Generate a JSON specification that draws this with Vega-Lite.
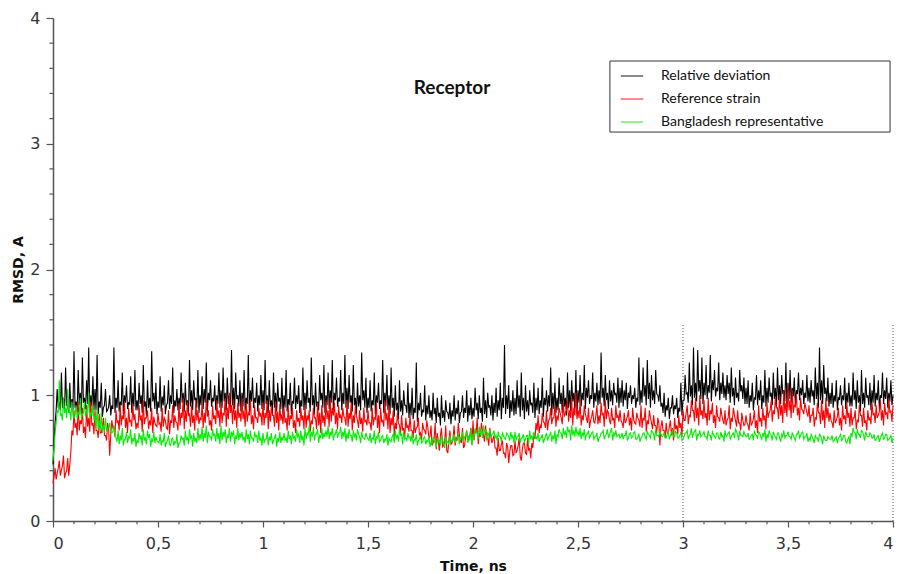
{
"$schema":"https://vega.github.io/schema/vega-lite/v6.json",
"width":840,"height":503,
"autosize":{"type":"none"},
"padding":{"left":53,"top":18,"right":7,"bottom":53},
"background":"white",
"config":{"view":{"stroke":null},"axis":{"grid":false,"domainColor":"#555","domainWidth":1.5,"tickColor":"#555","tickWidth":1.2,"labelFont":"DejaVu Sans","labelFontSize":16,"labelColor":"#333","titleFont":"DejaVu Sans","titleFontSize":14,"titleFontWeight":"bold","titleColor":"#111"}},
"layer":[
{
"data":{"values":[{"v":0.1},{"v":0.2},{"v":0.3},{"v":0.4},{"v":0.6},{"v":0.7},{"v":0.8},{"v":0.9},{"v":1.1},{"v":1.2},{"v":1.3},{"v":1.4},{"v":1.6},{"v":1.7},{"v":1.8},{"v":1.9},{"v":2.1},{"v":2.2},{"v":2.3},{"v":2.4},{"v":2.6},{"v":2.7},{"v":2.8},{"v":2.9},{"v":3.1},{"v":3.2},{"v":3.3},{"v":3.4},{"v":3.6},{"v":3.7},{"v":3.8},{"v":3.9}]},
"mark":{"type":"rule","color":"#555","strokeWidth":1.2},
"encoding":{
"x":{"field":"v","type":"quantitative"},
"y":{"datum":0,"type":"quantitative"},
"y2":{"datum":-0.026}
}
},
{
"data":{"values":[{"v":0.2},{"v":0.4},{"v":0.6},{"v":0.8},{"v":1.2},{"v":1.4},{"v":1.6},{"v":1.8},{"v":2.2},{"v":2.4},{"v":2.6},{"v":2.8},{"v":3.2},{"v":3.4},{"v":3.6},{"v":3.8}]},
"mark":{"type":"rule","color":"#555","strokeWidth":1.2},
"encoding":{
"y":{"field":"v","type":"quantitative"},
"x":{"datum":0,"type":"quantitative"},
"x2":{"datum":-0.017}
}
},
{
"data":{"values":[{"t":3,"y0":0,"y1":1.56},{"t":4,"y0":0,"y1":1.56}]},
"mark":{"type":"rule","color":"#555","strokeDash":[1,2],"strokeWidth":1},
"encoding":{
"x":{"field":"t","type":"quantitative"},
"y":{"field":"y0","type":"quantitative"},
"y2":{"field":"y1"}
}
},
{
"data":{"values":[
{"t":0,"k":0.45,"r":0.30,"g":0.48},
{"t":0.01,"k":0.78,"r":0.42,"g":0.70},
{"t":0.02,"k":1.05,"r":0.38,"g":0.88},
{"t":0.03,"k":0.95,"r":0.48,"g":1.12},
{"t":0.04,"k":1.18,"r":0.40,"g":0.85},
{"t":0.05,"k":0.98,"r":0.52,"g":0.98},
{"t":0.06,"k":1.22,"r":0.38,"g":0.90},
{"t":0.07,"k":0.92,"r":0.50,"g":1.05},
{"t":0.08,"k":1.10,"r":0.45,"g":0.88},
{"t":0.09,"k":0.97,"r":0.72,"g":0.95},
{"t":0.10,"k":1.35,"r":0.88,"g":0.82},
{"t":0.11,"k":0.95,"r":0.78,"g":0.92},
{"t":0.12,"k":1.20,"r":0.95,"g":0.86},
{"t":0.13,"k":1.02,"r":0.80,"g":0.98},
{"t":0.14,"k":1.30,"r":0.90,"g":0.85},
{"t":0.15,"k":0.98,"r":0.75,"g":0.95},
{"t":0.16,"k":1.12,"r":0.92,"g":0.88},
{"t":0.17,"k":1.38,"r":0.82,"g":1.02},
{"t":0.18,"k":1.00,"r":0.95,"g":0.86},
{"t":0.19,"k":1.15,"r":0.78,"g":0.92},
{"t":0.20,"k":1.05,"r":0.88,"g":0.84},
{"t":0.21,"k":1.32,"r":0.72,"g":0.90},
{"t":0.22,"k":0.95,"r":0.85,"g":0.80},
{"t":0.23,"k":1.10,"r":0.70,"g":0.86},
{"t":0.24,"k":0.90,"r":0.82,"g":0.76},
{"t":0.25,"k":1.05,"r":0.68,"g":0.82},
{"t":0.26,"k":0.88,"r":0.78,"g":0.74},
{"t":0.27,"k":1.00,"r":0.52,"g":0.78},
{"t":0.28,"k":0.92,"r":0.80,"g":0.70},
{"t":0.29,"k":1.38,"r":0.75,"g":0.76},
{"t":0.30,"k":0.98,"r":0.88,"g":0.66},
{"t":0.31,"k":1.12,"r":0.80,"g":0.72},
{"t":0.32,"k":0.95,"r":0.92,"g":0.68},
{"t":0.33,"k":1.18,"r":0.84,"g":0.74},
{"t":0.34,"k":1.00,"r":0.95,"g":0.65},
{"t":0.35,"k":1.08,"r":0.82,"g":0.71},
{"t":0.36,"k":0.94,"r":0.90,"g":0.67},
{"t":0.37,"k":1.15,"r":0.80,"g":0.73},
{"t":0.38,"k":1.02,"r":0.93,"g":0.66},
{"t":0.39,"k":1.20,"r":0.85,"g":0.70},
{"t":0.40,"k":0.96,"r":0.78,"g":0.64},
{"t":0.41,"k":1.10,"r":0.92,"g":0.70},
{"t":0.42,"k":1.00,"r":0.84,"g":0.68},
{"t":0.43,"k":1.24,"r":0.96,"g":0.73},
{"t":0.44,"k":0.95,"r":0.82,"g":0.66},
{"t":0.45,"k":1.12,"r":0.88,"g":0.72},
{"t":0.46,"k":0.98,"r":0.80,"g":0.69},
{"t":0.47,"k":1.35,"r":0.90,"g":0.65},
{"t":0.48,"k":1.02,"r":0.83,"g":0.71},
{"t":0.49,"k":1.10,"r":0.76,"g":0.67},
{"t":0.50,"k":0.95,"r":0.86,"g":0.63},
{"t":0.51,"k":1.15,"r":0.78,"g":0.69},
{"t":0.52,"k":0.99,"r":0.90,"g":0.64},
{"t":0.53,"k":1.08,"r":0.82,"g":0.70},
{"t":0.54,"k":0.92,"r":0.74,"g":0.62},
{"t":0.55,"k":1.12,"r":0.88,"g":0.68},
{"t":0.56,"k":1.00,"r":0.80,"g":0.60},
{"t":0.57,"k":1.22,"r":0.92,"g":0.66},
{"t":0.58,"k":0.96,"r":0.84,"g":0.63},
{"t":0.59,"k":1.05,"r":0.78,"g":0.69},
{"t":0.60,"k":0.98,"r":0.94,"g":0.62},
{"t":0.61,"k":1.18,"r":0.86,"g":0.68},
{"t":0.62,"k":1.02,"r":0.98,"g":0.66},
{"t":0.63,"k":1.10,"r":0.88,"g":0.72},
{"t":0.64,"k":0.96,"r":0.95,"g":0.67},
{"t":0.65,"k":1.28,"r":0.85,"g":0.73},
{"t":0.66,"k":1.04,"r":0.92,"g":0.68},
{"t":0.67,"k":1.12,"r":0.84,"g":0.70},
{"t":0.68,"k":0.98,"r":0.96,"g":0.66},
{"t":0.69,"k":1.20,"r":0.88,"g":0.74},
{"t":0.70,"k":1.00,"r":0.82,"g":0.69},
{"t":0.71,"k":1.15,"r":0.94,"g":0.75},
{"t":0.72,"k":1.05,"r":0.86,"g":0.70},
{"t":0.73,"k":1.26,"r":0.98,"g":0.76},
{"t":0.74,"k":1.02,"r":0.88,"g":0.71},
{"t":0.75,"k":1.12,"r":0.80,"g":0.67},
{"t":0.76,"k":0.98,"r":0.92,"g":0.73},
{"t":0.77,"k":1.08,"r":0.84,"g":0.69},
{"t":0.78,"k":1.00,"r":0.96,"g":0.74},
{"t":0.79,"k":1.18,"r":0.88,"g":0.70},
{"t":0.80,"k":1.04,"r":0.94,"g":0.76},
{"t":0.81,"k":1.22,"r":0.86,"g":0.71},
{"t":0.82,"k":1.02,"r":0.98,"g":0.73},
{"t":0.83,"k":1.14,"r":0.90,"g":0.68},
{"t":0.84,"k":1.00,"r":1.02,"g":0.74},
{"t":0.85,"k":1.36,"r":0.92,"g":0.70},
{"t":0.86,"k":1.06,"r":0.96,"g":0.72},
{"t":0.87,"k":1.18,"r":0.88,"g":0.68},
{"t":0.88,"k":1.00,"r":0.94,"g":0.74},
{"t":0.89,"k":1.12,"r":0.86,"g":0.70},
{"t":0.90,"k":1.02,"r":0.98,"g":0.71},
{"t":0.91,"k":1.20,"r":0.88,"g":0.67},
{"t":0.92,"k":0.98,"r":0.94,"g":0.73},
{"t":0.93,"k":1.32,"r":0.86,"g":0.69},
{"t":0.94,"k":1.04,"r":0.96,"g":0.72},
{"t":0.95,"k":1.14,"r":0.84,"g":0.66},
{"t":0.96,"k":0.98,"r":0.92,"g":0.71},
{"t":0.97,"k":1.10,"r":0.82,"g":0.68},
{"t":0.98,"k":1.00,"r":0.90,"g":0.72},
{"t":0.99,"k":1.16,"r":0.86,"g":0.66},
{"t":1.00,"k":1.04,"r":0.94,"g":0.70},
{"t":1.01,"k":1.28,"r":0.86,"g":0.65},
{"t":1.02,"k":1.00,"r":0.96,"g":0.71},
{"t":1.03,"k":1.12,"r":0.88,"g":0.67},
{"t":1.04,"k":0.96,"r":0.92,"g":0.70},
{"t":1.05,"k":1.18,"r":0.84,"g":0.64},
{"t":1.06,"k":1.02,"r":0.95,"g":0.69},
{"t":1.07,"k":1.10,"r":0.87,"g":0.66},
{"t":1.08,"k":0.98,"r":0.93,"g":0.71},
{"t":1.09,"k":1.14,"r":0.85,"g":0.67},
{"t":1.10,"k":1.00,"r":0.90,"g":0.70},
{"t":1.11,"k":1.20,"r":0.82,"g":0.66},
{"t":1.12,"k":0.97,"r":0.92,"g":0.72},
{"t":1.13,"k":1.10,"r":0.84,"g":0.68},
{"t":1.14,"k":0.95,"r":0.90,"g":0.71},
{"t":1.15,"k":1.14,"r":0.80,"g":0.67},
{"t":1.16,"k":1.00,"r":0.88,"g":0.73},
{"t":1.17,"k":1.08,"r":0.82,"g":0.69},
{"t":1.18,"k":0.96,"r":0.90,"g":0.72},
{"t":1.19,"k":1.22,"r":0.84,"g":0.68},
{"t":1.20,"k":1.02,"r":0.92,"g":0.74},
{"t":1.21,"k":1.12,"r":0.84,"g":0.70},
{"t":1.22,"k":0.98,"r":0.88,"g":0.76},
{"t":1.23,"k":1.30,"r":0.80,"g":0.71},
{"t":1.24,"k":1.00,"r":0.90,"g":0.75},
{"t":1.25,"k":1.10,"r":0.82,"g":0.69},
{"t":1.26,"k":0.95,"r":0.94,"g":0.73},
{"t":1.27,"k":1.16,"r":0.86,"g":0.68},
{"t":1.28,"k":1.02,"r":0.92,"g":0.74},
{"t":1.29,"k":1.24,"r":0.84,"g":0.70},
{"t":1.30,"k":1.00,"r":0.96,"g":0.72},
{"t":1.31,"k":1.18,"r":0.88,"g":0.76},
{"t":1.32,"k":1.04,"r":0.98,"g":0.71},
{"t":1.33,"k":1.28,"r":0.90,"g":0.74},
{"t":1.34,"k":1.02,"r":0.94,"g":0.69},
{"t":1.35,"k":1.14,"r":0.86,"g":0.73},
{"t":1.36,"k":0.98,"r":0.92,"g":0.70},
{"t":1.37,"k":1.20,"r":0.84,"g":0.75},
{"t":1.38,"k":1.02,"r":0.90,"g":0.71},
{"t":1.39,"k":1.32,"r":0.82,"g":0.74},
{"t":1.40,"k":1.06,"r":0.96,"g":0.70},
{"t":1.41,"k":1.16,"r":0.86,"g":0.73},
{"t":1.42,"k":1.00,"r":0.94,"g":0.68},
{"t":1.43,"k":1.24,"r":0.84,"g":0.72},
{"t":1.44,"k":0.98,"r":0.92,"g":0.69},
{"t":1.45,"k":1.10,"r":0.80,"g":0.73},
{"t":1.46,"k":1.00,"r":0.88,"g":0.67},
{"t":1.47,"k":1.34,"r":0.82,"g":0.71},
{"t":1.48,"k":1.04,"r":0.90,"g":0.66},
{"t":1.49,"k":1.14,"r":0.80,"g":0.70},
{"t":1.50,"k":0.98,"r":0.88,"g":0.65},
{"t":1.51,"k":1.12,"r":0.78,"g":0.70},
{"t":1.52,"k":0.96,"r":0.90,"g":0.66},
{"t":1.53,"k":1.18,"r":0.82,"g":0.72},
{"t":1.54,"k":1.00,"r":0.94,"g":0.67},
{"t":1.55,"k":1.10,"r":0.84,"g":0.71},
{"t":1.56,"k":0.96,"r":0.90,"g":0.64},
{"t":1.57,"k":1.28,"r":0.80,"g":0.68},
{"t":1.58,"k":1.02,"r":0.96,"g":0.65},
{"t":1.59,"k":1.16,"r":0.86,"g":0.69},
{"t":1.60,"k":1.00,"r":0.92,"g":0.66},
{"t":1.61,"k":1.22,"r":0.82,"g":0.63},
{"t":1.62,"k":0.98,"r":0.88,"g":0.69},
{"t":1.63,"k":1.08,"r":0.78,"g":0.72},
{"t":1.64,"k":0.94,"r":0.86,"g":0.68},
{"t":1.65,"k":1.12,"r":0.76,"g":0.73},
{"t":1.66,"k":0.96,"r":0.84,"g":0.69},
{"t":1.67,"k":1.04,"r":0.74,"g":0.71},
{"t":1.68,"k":0.92,"r":0.82,"g":0.66},
{"t":1.69,"k":1.10,"r":0.76,"g":0.70},
{"t":1.70,"k":0.94,"r":0.84,"g":0.67},
{"t":1.71,"k":1.06,"r":0.72,"g":0.70},
{"t":1.72,"k":0.90,"r":0.80,"g":0.65},
{"t":1.73,"k":1.26,"r":0.74,"g":0.69},
{"t":1.74,"k":0.94,"r":0.82,"g":0.64},
{"t":1.75,"k":1.02,"r":0.70,"g":0.68},
{"t":1.76,"k":0.88,"r":0.78,"g":0.63},
{"t":1.77,"k":1.08,"r":0.72,"g":0.67},
{"t":1.78,"k":0.92,"r":0.80,"g":0.64},
{"t":1.79,"k":1.00,"r":0.66,"g":0.68},
{"t":1.80,"k":0.88,"r":0.76,"g":0.63},
{"t":1.81,"k":1.02,"r":0.62,"g":0.67},
{"t":1.82,"k":0.90,"r":0.78,"g":0.62},
{"t":1.83,"k":0.98,"r":0.70,"g":0.66},
{"t":1.84,"k":0.86,"r":0.56,"g":0.64},
{"t":1.85,"k":1.00,"r":0.74,"g":0.68},
{"t":1.86,"k":0.88,"r":0.60,"g":0.62},
{"t":1.87,"k":0.96,"r":0.76,"g":0.67},
{"t":1.88,"k":0.86,"r":0.54,"g":0.63},
{"t":1.89,"k":0.94,"r":0.72,"g":0.68},
{"t":1.90,"k":0.88,"r":0.62,"g":0.64},
{"t":1.91,"k":1.00,"r":0.76,"g":0.69},
{"t":1.92,"k":0.90,"r":0.66,"g":0.65},
{"t":1.93,"k":0.96,"r":0.78,"g":0.70},
{"t":1.94,"k":0.86,"r":0.64,"g":0.66},
{"t":1.95,"k":1.00,"r":0.74,"g":0.71},
{"t":1.96,"k":0.90,"r":0.60,"g":0.67},
{"t":1.97,"k":1.04,"r":0.72,"g":0.72},
{"t":1.98,"k":0.92,"r":0.66,"g":0.68},
{"t":1.99,"k":0.98,"r":0.74,"g":0.73},
{"t":2.00,"k":0.90,"r":0.80,"g":0.69},
{"t":2.01,"k":1.06,"r":0.72,"g":0.74},
{"t":2.02,"k":0.94,"r":0.82,"g":0.70},
{"t":2.03,"k":1.00,"r":0.70,"g":0.75},
{"t":2.04,"k":0.90,"r":0.78,"g":0.71},
{"t":2.05,"k":1.14,"r":0.68,"g":0.76},
{"t":2.06,"k":0.96,"r":0.76,"g":0.72},
{"t":2.07,"k":1.02,"r":0.66,"g":0.70},
{"t":2.08,"k":0.92,"r":0.74,"g":0.73},
{"t":2.09,"k":1.00,"r":0.62,"g":0.69},
{"t":2.10,"k":0.94,"r":0.68,"g":0.72},
{"t":2.11,"k":1.06,"r":0.58,"g":0.68},
{"t":2.12,"k":0.96,"r":0.66,"g":0.71},
{"t":2.13,"k":1.10,"r":0.56,"g":0.67},
{"t":2.14,"k":0.98,"r":0.64,"g":0.70},
{"t":2.15,"k":1.40,"r":0.54,"g":0.66},
{"t":2.16,"k":1.00,"r":0.62,"g":0.70},
{"t":2.17,"k":1.08,"r":0.46,"g":0.67},
{"t":2.18,"k":0.96,"r":0.60,"g":0.71},
{"t":2.19,"k":1.04,"r":0.52,"g":0.68},
{"t":2.20,"k":0.98,"r":0.64,"g":0.71},
{"t":2.21,"k":1.12,"r":0.56,"g":0.67},
{"t":2.22,"k":1.00,"r":0.66,"g":0.70},
{"t":2.23,"k":1.18,"r":0.48,"g":0.66},
{"t":2.24,"k":0.98,"r":0.62,"g":0.69},
{"t":2.25,"k":1.08,"r":0.54,"g":0.65},
{"t":2.26,"k":0.96,"r":0.66,"g":0.68},
{"t":2.27,"k":1.04,"r":0.58,"g":0.72},
{"t":2.28,"k":0.94,"r":0.62,"g":0.68},
{"t":2.29,"k":1.10,"r":0.70,"g":0.71},
{"t":2.30,"k":0.98,"r":0.78,"g":0.67},
{"t":2.31,"k":1.06,"r":0.84,"g":0.70},
{"t":2.32,"k":0.96,"r":0.76,"g":0.66},
{"t":2.33,"k":1.14,"r":0.86,"g":0.69},
{"t":2.34,"k":0.98,"r":0.78,"g":0.65},
{"t":2.35,"k":1.04,"r":0.88,"g":0.70},
{"t":2.36,"k":1.00,"r":0.80,"g":0.67},
{"t":2.37,"k":1.22,"r":0.90,"g":0.71},
{"t":2.38,"k":1.02,"r":0.82,"g":0.68},
{"t":2.39,"k":1.10,"r":0.92,"g":0.72},
{"t":2.40,"k":0.98,"r":0.84,"g":0.69},
{"t":2.41,"k":1.14,"r":0.90,"g":0.73},
{"t":2.42,"k":1.02,"r":0.82,"g":0.70},
{"t":2.43,"k":1.08,"r":0.94,"g":0.74},
{"t":2.44,"k":0.98,"r":0.86,"g":0.71},
{"t":2.45,"k":1.18,"r":0.96,"g":0.75},
{"t":2.46,"k":1.04,"r":0.88,"g":0.72},
{"t":2.47,"k":1.12,"r":0.98,"g":0.76},
{"t":2.48,"k":1.02,"r":0.90,"g":0.72},
{"t":2.49,"k":1.20,"r":1.02,"g":0.75},
{"t":2.50,"k":1.04,"r":0.88,"g":0.71},
{"t":2.51,"k":1.16,"r":0.96,"g":0.74},
{"t":2.52,"k":1.02,"r":0.84,"g":0.70},
{"t":2.53,"k":1.24,"r":0.92,"g":0.73},
{"t":2.54,"k":1.06,"r":0.82,"g":0.69},
{"t":2.55,"k":1.12,"r":0.90,"g":0.72},
{"t":2.56,"k":1.00,"r":0.80,"g":0.68},
{"t":2.57,"k":1.18,"r":0.88,"g":0.71},
{"t":2.58,"k":1.02,"r":0.78,"g":0.67},
{"t":2.59,"k":1.10,"r":0.92,"g":0.70},
{"t":2.60,"k":1.04,"r":0.84,"g":0.66},
{"t":2.61,"k":1.34,"r":0.94,"g":0.70},
{"t":2.62,"k":1.06,"r":0.86,"g":0.72},
{"t":2.63,"k":1.16,"r":0.96,"g":0.68},
{"t":2.64,"k":1.02,"r":0.88,"g":0.73},
{"t":2.65,"k":1.12,"r":0.80,"g":0.69},
{"t":2.66,"k":1.04,"r":0.90,"g":0.74},
{"t":2.67,"k":1.10,"r":0.82,"g":0.70},
{"t":2.68,"k":1.02,"r":0.92,"g":0.72},
{"t":2.69,"k":1.14,"r":0.84,"g":0.68},
{"t":2.70,"k":1.06,"r":0.88,"g":0.66},
{"t":2.71,"k":1.12,"r":0.78,"g":0.70},
{"t":2.72,"k":1.04,"r":0.86,"g":0.68},
{"t":2.73,"k":1.10,"r":0.80,"g":0.72},
{"t":2.74,"k":1.02,"r":0.88,"g":0.66},
{"t":2.75,"k":1.08,"r":0.82,"g":0.70},
{"t":2.76,"k":1.00,"r":0.90,"g":0.67},
{"t":2.77,"k":1.06,"r":0.78,"g":0.71},
{"t":2.78,"k":0.98,"r":0.86,"g":0.65},
{"t":2.79,"k":1.30,"r":0.80,"g":0.69},
{"t":2.80,"k":1.04,"r":0.92,"g":0.66},
{"t":2.81,"k":1.22,"r":0.82,"g":0.70},
{"t":2.82,"k":1.08,"r":0.90,"g":0.67},
{"t":2.83,"k":1.28,"r":0.80,"g":0.71},
{"t":2.84,"k":1.10,"r":0.88,"g":0.68},
{"t":2.85,"k":1.16,"r":0.78,"g":0.72},
{"t":2.86,"k":1.04,"r":0.84,"g":0.69},
{"t":2.87,"k":1.20,"r":0.76,"g":0.73},
{"t":2.88,"k":1.00,"r":0.82,"g":0.68},
{"t":2.89,"k":1.08,"r":0.60,"g":0.71},
{"t":2.90,"k":0.94,"r":0.80,"g":0.67},
{"t":2.91,"k":1.02,"r":0.72,"g":0.70},
{"t":2.92,"k":0.92,"r":0.78,"g":0.66},
{"t":2.93,"k":0.98,"r":0.70,"g":0.71},
{"t":2.94,"k":0.90,"r":0.80,"g":0.68},
{"t":2.95,"k":1.00,"r":0.74,"g":0.72},
{"t":2.96,"k":0.92,"r":0.82,"g":0.67},
{"t":2.97,"k":0.98,"r":0.76,"g":0.70},
{"t":2.98,"k":0.90,"r":0.84,"g":0.66},
{"t":2.99,"k":1.10,"r":0.78,"g":0.71},
{"t":3.00,"k":0.96,"r":0.88,"g":0.65},
{"t":3.01,"k":1.16,"r":0.80,"g":0.70},
{"t":3.02,"k":1.02,"r":0.92,"g":0.72},
{"t":3.03,"k":1.26,"r":0.84,"g":0.68},
{"t":3.04,"k":1.08,"r":0.96,"g":0.74},
{"t":3.05,"k":1.38,"r":0.88,"g":0.70},
{"t":3.06,"k":1.10,"r":0.98,"g":0.73},
{"t":3.07,"k":1.36,"r":0.90,"g":0.69},
{"t":3.08,"k":1.12,"r":1.00,"g":0.72},
{"t":3.09,"k":1.30,"r":0.88,"g":0.68},
{"t":3.10,"k":1.10,"r":0.96,"g":0.71},
{"t":3.11,"k":1.24,"r":0.86,"g":0.67},
{"t":3.12,"k":1.08,"r":0.98,"g":0.72},
{"t":3.13,"k":1.32,"r":0.88,"g":0.68},
{"t":3.14,"k":1.12,"r":0.94,"g":0.71},
{"t":3.15,"k":1.20,"r":0.84,"g":0.67},
{"t":3.16,"k":1.06,"r":0.92,"g":0.70},
{"t":3.17,"k":1.26,"r":0.82,"g":0.66},
{"t":3.18,"k":1.10,"r":0.90,"g":0.71},
{"t":3.19,"k":1.18,"r":0.80,"g":0.68},
{"t":3.20,"k":1.08,"r":0.88,"g":0.72},
{"t":3.21,"k":1.16,"r":0.80,"g":0.68},
{"t":3.22,"k":1.10,"r":0.92,"g":0.71},
{"t":3.23,"k":1.22,"r":0.82,"g":0.67},
{"t":3.24,"k":1.06,"r":0.90,"g":0.70},
{"t":3.25,"k":1.14,"r":0.80,"g":0.73},
{"t":3.26,"k":1.02,"r":0.88,"g":0.69},
{"t":3.27,"k":1.20,"r":0.78,"g":0.72},
{"t":3.28,"k":1.08,"r":0.86,"g":0.68},
{"t":3.29,"k":1.14,"r":0.76,"g":0.71},
{"t":3.30,"k":1.06,"r":0.84,"g":0.67},
{"t":3.31,"k":1.12,"r":0.76,"g":0.70},
{"t":3.32,"k":1.00,"r":0.86,"g":0.66},
{"t":3.33,"k":1.10,"r":0.78,"g":0.69},
{"t":3.34,"k":0.98,"r":0.88,"g":0.72},
{"t":3.35,"k":1.16,"r":0.80,"g":0.68},
{"t":3.36,"k":1.04,"r":0.92,"g":0.71},
{"t":3.37,"k":1.12,"r":0.82,"g":0.67},
{"t":3.38,"k":1.00,"r":0.90,"g":0.70},
{"t":3.39,"k":1.20,"r":0.84,"g":0.73},
{"t":3.40,"k":1.06,"r":0.94,"g":0.69},
{"t":3.41,"k":1.14,"r":0.86,"g":0.72},
{"t":3.42,"k":1.02,"r":0.96,"g":0.68},
{"t":3.43,"k":1.18,"r":0.88,"g":0.71},
{"t":3.44,"k":1.06,"r":0.98,"g":0.67},
{"t":3.45,"k":1.22,"r":0.90,"g":0.70},
{"t":3.46,"k":1.08,"r":1.00,"g":0.66},
{"t":3.47,"k":1.16,"r":0.92,"g":0.69},
{"t":3.48,"k":1.04,"r":1.04,"g":0.72},
{"t":3.49,"k":1.26,"r":0.94,"g":0.68},
{"t":3.50,"k":1.10,"r":1.08,"g":0.71},
{"t":3.51,"k":1.20,"r":0.96,"g":0.67},
{"t":3.52,"k":1.06,"r":1.04,"g":0.70},
{"t":3.53,"k":1.14,"r":0.92,"g":0.66},
{"t":3.54,"k":1.04,"r":1.00,"g":0.69},
{"t":3.55,"k":1.18,"r":0.90,"g":0.72},
{"t":3.56,"k":1.06,"r":0.98,"g":0.68},
{"t":3.57,"k":1.12,"r":0.88,"g":0.71},
{"t":3.58,"k":1.02,"r":0.94,"g":0.67},
{"t":3.59,"k":1.16,"r":0.86,"g":0.70},
{"t":3.60,"k":1.06,"r":0.92,"g":0.66},
{"t":3.61,"k":1.12,"r":0.84,"g":0.69},
{"t":3.62,"k":1.04,"r":0.90,"g":0.65},
{"t":3.63,"k":1.22,"r":0.82,"g":0.68},
{"t":3.64,"k":1.10,"r":0.94,"g":0.66},
{"t":3.65,"k":1.38,"r":0.86,"g":0.69},
{"t":3.66,"k":1.12,"r":0.96,"g":0.65},
{"t":3.67,"k":1.24,"r":0.88,"g":0.68},
{"t":3.68,"k":1.06,"r":0.98,"g":0.64},
{"t":3.69,"k":1.14,"r":0.90,"g":0.67},
{"t":3.70,"k":1.02,"r":0.86,"g":0.65},
{"t":3.71,"k":1.10,"r":0.78,"g":0.68},
{"t":3.72,"k":1.00,"r":0.88,"g":0.64},
{"t":3.73,"k":1.12,"r":0.80,"g":0.67},
{"t":3.74,"k":0.98,"r":0.90,"g":0.66},
{"t":3.75,"k":1.08,"r":0.82,"g":0.69},
{"t":3.76,"k":1.00,"r":0.92,"g":0.65},
{"t":3.77,"k":1.14,"r":0.84,"g":0.68},
{"t":3.78,"k":1.02,"r":0.94,"g":0.62},
{"t":3.79,"k":1.10,"r":0.86,"g":0.67},
{"t":3.80,"k":1.00,"r":0.90,"g":0.70},
{"t":3.81,"k":1.18,"r":0.82,"g":0.74},
{"t":3.82,"k":1.04,"r":0.88,"g":0.70},
{"t":3.83,"k":1.12,"r":0.80,"g":0.73},
{"t":3.84,"k":1.00,"r":0.92,"g":0.69},
{"t":3.85,"k":1.20,"r":0.84,"g":0.72},
{"t":3.86,"k":1.02,"r":0.90,"g":0.68},
{"t":3.87,"k":1.14,"r":0.80,"g":0.71},
{"t":3.88,"k":1.00,"r":0.88,"g":0.67},
{"t":3.89,"k":1.10,"r":0.82,"g":0.70},
{"t":3.90,"k":1.04,"r":0.94,"g":0.66},
{"t":3.91,"k":1.16,"r":0.86,"g":0.69},
{"t":3.92,"k":1.02,"r":0.92,"g":0.65},
{"t":3.93,"k":1.12,"r":0.84,"g":0.68},
{"t":3.94,"k":1.00,"r":0.96,"g":0.66},
{"t":3.95,"k":1.18,"r":0.88,"g":0.70},
{"t":3.96,"k":1.04,"r":0.94,"g":0.66},
{"t":3.97,"k":1.14,"r":0.86,"g":0.69},
{"t":3.98,"k":1.02,"r":0.98,"g":0.65},
{"t":3.99,"k":1.12,"r":0.88,"g":0.68},
{"t":4.00,"k":1.00,"r":0.92,"g":0.66},
{"t":0.005,"k":0.62,"r":0.35,"g":0.58},
{"t":0.015,"k":0.88,"r":0.33,"g":0.78},
{"t":0.025,"k":0.90,"r":0.42,"g":0.86},
{"t":0.035,"k":0.88,"r":0.36,"g":0.84},
{"t":0.045,"k":0.90,"r":0.44,"g":0.80},
{"t":0.055,"k":0.87,"r":0.34,"g":0.86},
{"t":0.065,"k":0.92,"r":0.40,"g":0.82},
{"t":0.075,"k":0.86,"r":0.36,"g":0.86},
{"t":0.085,"k":0.90,"r":0.55,"g":0.80},
{"t":0.095,"k":0.88,"r":0.68,"g":0.84},
{"t":0.105,"k":0.90,"r":0.74,"g":0.84},
{"t":0.115,"k":0.87,"r":0.68,"g":0.82},
{"t":0.125,"k":0.92,"r":0.72,"g":0.85},
{"t":0.135,"k":0.85,"r":0.77,"g":0.81},
{"t":0.145,"k":0.94,"r":0.70,"g":0.86},
{"t":0.155,"k":0.89,"r":0.66,"g":0.83},
{"t":0.165,"k":0.93,"r":0.75,"g":0.87},
{"t":0.175,"k":0.86,"r":0.71,"g":0.82},
{"t":0.185,"k":0.91,"r":0.76,"g":0.84},
{"t":0.195,"k":0.88,"r":0.69,"g":0.80},
{"t":0.205,"k":0.88,"r":0.72,"g":0.74},
{"t":0.215,"k":0.85,"r":0.66,"g":0.72},
{"t":0.225,"k":0.90,"r":0.70,"g":0.73},
{"t":0.235,"k":0.83,"r":0.75,"g":0.70},
{"t":0.245,"k":0.92,"r":0.68,"g":0.73},
{"t":0.255,"k":0.87,"r":0.64,"g":0.71},
{"t":0.265,"k":0.91,"r":0.73,"g":0.74},
{"t":0.275,"k":0.84,"r":0.69,"g":0.70},
{"t":0.285,"k":0.89,"r":0.74,"g":0.71},
{"t":0.295,"k":0.86,"r":0.67,"g":0.68},
{"t":0.305,"k":0.90,"r":0.78,"g":0.63},
{"t":0.315,"k":0.87,"r":0.72,"g":0.61},
{"t":0.325,"k":0.92,"r":0.76,"g":0.64},
{"t":0.335,"k":0.85,"r":0.81,"g":0.60},
{"t":0.345,"k":0.94,"r":0.74,"g":0.65},
{"t":0.355,"k":0.89,"r":0.70,"g":0.62},
{"t":0.365,"k":0.93,"r":0.79,"g":0.66},
{"t":0.375,"k":0.86,"r":0.75,"g":0.61},
{"t":0.385,"k":0.91,"r":0.80,"g":0.63},
{"t":0.395,"k":0.88,"r":0.73,"g":0.59},
{"t":0.405,"k":0.88,"r":0.74,"g":0.62},
{"t":0.415,"k":0.93,"r":0.80,"g":0.65},
{"t":0.425,"k":0.86,"r":0.71,"g":0.60},
{"t":0.435,"k":0.91,"r":0.77,"g":0.64},
{"t":0.445,"k":0.84,"r":0.82,"g":0.61},
{"t":0.455,"k":0.90,"r":0.73,"g":0.66},
{"t":0.465,"k":0.87,"r":0.76,"g":0.59},
{"t":0.475,"k":0.95,"r":0.70,"g":0.63},
{"t":0.485,"k":0.89,"r":0.78,"g":0.62},
{"t":0.495,"k":0.85,"r":0.75,"g":0.64},
{"t":0.505,"k":0.90,"r":0.77,"g":0.62},
{"t":0.515,"k":0.87,"r":0.71,"g":0.60},
{"t":0.525,"k":0.92,"r":0.75,"g":0.63},
{"t":0.535,"k":0.85,"r":0.80,"g":0.59},
{"t":0.545,"k":0.94,"r":0.73,"g":0.64},
{"t":0.555,"k":0.89,"r":0.69,"g":0.61},
{"t":0.565,"k":0.93,"r":0.78,"g":0.65},
{"t":0.575,"k":0.86,"r":0.74,"g":0.60},
{"t":0.585,"k":0.91,"r":0.79,"g":0.62},
{"t":0.595,"k":0.88,"r":0.72,"g":0.58},
{"t":0.605,"k":0.89,"r":0.76,"g":0.62},
{"t":0.615,"k":0.94,"r":0.82,"g":0.65},
{"t":0.625,"k":0.87,"r":0.73,"g":0.60},
{"t":0.635,"k":0.92,"r":0.79,"g":0.64},
{"t":0.645,"k":0.85,"r":0.84,"g":0.61},
{"t":0.655,"k":0.91,"r":0.75,"g":0.66},
{"t":0.665,"k":0.88,"r":0.78,"g":0.59},
{"t":0.675,"k":0.96,"r":0.72,"g":0.63},
{"t":0.685,"k":0.90,"r":0.80,"g":0.62},
{"t":0.695,"k":0.86,"r":0.77,"g":0.64},
{"t":0.705,"k":0.92,"r":0.80,"g":0.65},
{"t":0.715,"k":0.89,"r":0.74,"g":0.63},
{"t":0.725,"k":0.94,"r":0.78,"g":0.66},
{"t":0.735,"k":0.87,"r":0.83,"g":0.62},
{"t":0.745,"k":0.96,"r":0.76,"g":0.67},
{"t":0.755,"k":0.91,"r":0.72,"g":0.64},
{"t":0.765,"k":0.95,"r":0.81,"g":0.68},
{"t":0.775,"k":0.88,"r":0.77,"g":0.63},
{"t":0.785,"k":0.93,"r":0.82,"g":0.65},
{"t":0.795,"k":0.90,"r":0.75,"g":0.61},
{"t":0.805,"k":0.90,"r":0.78,"g":0.64},
{"t":0.815,"k":0.95,"r":0.84,"g":0.67},
{"t":0.825,"k":0.88,"r":0.75,"g":0.62},
{"t":0.835,"k":0.93,"r":0.81,"g":0.66},
{"t":0.845,"k":0.86,"r":0.86,"g":0.63},
{"t":0.855,"k":0.92,"r":0.77,"g":0.68},
{"t":0.865,"k":0.89,"r":0.80,"g":0.61},
{"t":0.875,"k":0.97,"r":0.74,"g":0.65},
{"t":0.885,"k":0.91,"r":0.82,"g":0.64},
{"t":0.895,"k":0.87,"r":0.79,"g":0.66},
{"t":0.905,"k":0.91,"r":0.81,"g":0.64},
{"t":0.915,"k":0.88,"r":0.75,"g":0.62},
{"t":0.925,"k":0.93,"r":0.79,"g":0.65},
{"t":0.935,"k":0.86,"r":0.84,"g":0.61},
{"t":0.945,"k":0.95,"r":0.77,"g":0.66},
{"t":0.955,"k":0.90,"r":0.73,"g":0.63},
{"t":0.965,"k":0.94,"r":0.82,"g":0.67},
{"t":0.975,"k":0.87,"r":0.78,"g":0.62},
{"t":0.985,"k":0.92,"r":0.83,"g":0.64},
{"t":0.995,"k":0.89,"r":0.76,"g":0.60},
{"t":1.005,"k":0.88,"r":0.76,"g":0.62},
{"t":1.015,"k":0.93,"r":0.82,"g":0.65},
{"t":1.025,"k":0.86,"r":0.73,"g":0.60},
{"t":1.035,"k":0.91,"r":0.79,"g":0.64},
{"t":1.045,"k":0.84,"r":0.84,"g":0.61},
{"t":1.055,"k":0.90,"r":0.75,"g":0.66},
{"t":1.065,"k":0.87,"r":0.78,"g":0.59},
{"t":1.075,"k":0.95,"r":0.72,"g":0.63},
{"t":1.085,"k":0.89,"r":0.80,"g":0.62},
{"t":1.095,"k":0.85,"r":0.77,"g":0.64},
{"t":1.105,"k":0.90,"r":0.78,"g":0.64},
{"t":1.115,"k":0.87,"r":0.72,"g":0.62},
{"t":1.125,"k":0.92,"r":0.76,"g":0.65},
{"t":1.135,"k":0.85,"r":0.81,"g":0.61},
{"t":1.145,"k":0.94,"r":0.74,"g":0.66},
{"t":1.155,"k":0.89,"r":0.70,"g":0.63},
{"t":1.165,"k":0.93,"r":0.79,"g":0.67},
{"t":1.175,"k":0.86,"r":0.75,"g":0.62},
{"t":1.185,"k":0.91,"r":0.80,"g":0.64},
{"t":1.195,"k":0.88,"r":0.73,"g":0.60},
{"t":1.205,"k":0.89,"r":0.74,"g":0.65},
{"t":1.215,"k":0.94,"r":0.80,"g":0.68},
{"t":1.225,"k":0.87,"r":0.71,"g":0.63},
{"t":1.235,"k":0.92,"r":0.77,"g":0.67},
{"t":1.245,"k":0.85,"r":0.82,"g":0.64},
{"t":1.255,"k":0.91,"r":0.73,"g":0.69},
{"t":1.265,"k":0.88,"r":0.76,"g":0.62},
{"t":1.275,"k":0.96,"r":0.70,"g":0.66},
{"t":1.285,"k":0.90,"r":0.78,"g":0.65},
{"t":1.295,"k":0.86,"r":0.75,"g":0.67},
{"t":1.305,"k":0.92,"r":0.81,"g":0.67},
{"t":1.315,"k":0.89,"r":0.75,"g":0.65},
{"t":1.325,"k":0.94,"r":0.79,"g":0.68},
{"t":1.335,"k":0.87,"r":0.84,"g":0.64},
{"t":1.345,"k":0.96,"r":0.77,"g":0.69},
{"t":1.355,"k":0.91,"r":0.73,"g":0.66},
{"t":1.365,"k":0.95,"r":0.82,"g":0.70},
{"t":1.375,"k":0.88,"r":0.78,"g":0.65},
{"t":1.385,"k":0.93,"r":0.83,"g":0.67},
{"t":1.395,"k":0.90,"r":0.76,"g":0.63},
{"t":1.405,"k":0.89,"r":0.75,"g":0.65},
{"t":1.415,"k":0.94,"r":0.81,"g":0.68},
{"t":1.425,"k":0.87,"r":0.72,"g":0.63},
{"t":1.435,"k":0.92,"r":0.78,"g":0.67},
{"t":1.445,"k":0.85,"r":0.83,"g":0.64},
{"t":1.455,"k":0.91,"r":0.74,"g":0.69},
{"t":1.465,"k":0.88,"r":0.77,"g":0.62},
{"t":1.475,"k":0.96,"r":0.71,"g":0.66},
{"t":1.485,"k":0.90,"r":0.79,"g":0.65},
{"t":1.495,"k":0.86,"r":0.76,"g":0.67},
{"t":1.505,"k":0.90,"r":0.78,"g":0.64},
{"t":1.515,"k":0.87,"r":0.72,"g":0.62},
{"t":1.525,"k":0.92,"r":0.76,"g":0.65},
{"t":1.535,"k":0.85,"r":0.81,"g":0.61},
{"t":1.545,"k":0.94,"r":0.74,"g":0.66},
{"t":1.555,"k":0.89,"r":0.70,"g":0.63},
{"t":1.565,"k":0.93,"r":0.79,"g":0.67},
{"t":1.575,"k":0.86,"r":0.75,"g":0.62},
{"t":1.585,"k":0.91,"r":0.80,"g":0.64},
{"t":1.595,"k":0.88,"r":0.73,"g":0.60},
{"t":1.605,"k":0.85,"r":0.70,"g":0.64},
{"t":1.615,"k":0.90,"r":0.76,"g":0.67},
{"t":1.625,"k":0.83,"r":0.67,"g":0.62},
{"t":1.635,"k":0.88,"r":0.73,"g":0.66},
{"t":1.645,"k":0.81,"r":0.78,"g":0.63},
{"t":1.655,"k":0.87,"r":0.69,"g":0.68},
{"t":1.665,"k":0.84,"r":0.72,"g":0.61},
{"t":1.675,"k":0.92,"r":0.66,"g":0.65},
{"t":1.685,"k":0.86,"r":0.74,"g":0.64},
{"t":1.695,"k":0.82,"r":0.71,"g":0.66},
{"t":1.705,"k":0.84,"r":0.72,"g":0.63},
{"t":1.715,"k":0.81,"r":0.66,"g":0.61},
{"t":1.725,"k":0.86,"r":0.70,"g":0.64},
{"t":1.735,"k":0.79,"r":0.75,"g":0.60},
{"t":1.745,"k":0.88,"r":0.68,"g":0.65},
{"t":1.755,"k":0.83,"r":0.64,"g":0.62},
{"t":1.765,"k":0.87,"r":0.73,"g":0.66},
{"t":1.775,"k":0.80,"r":0.69,"g":0.61},
{"t":1.785,"k":0.85,"r":0.74,"g":0.63},
{"t":1.795,"k":0.82,"r":0.67,"g":0.59},
{"t":1.805,"k":0.80,"r":0.60,"g":0.61},
{"t":1.815,"k":0.85,"r":0.66,"g":0.64},
{"t":1.825,"k":0.78,"r":0.57,"g":0.59},
{"t":1.835,"k":0.83,"r":0.63,"g":0.63},
{"t":1.845,"k":0.76,"r":0.68,"g":0.60},
{"t":1.855,"k":0.82,"r":0.59,"g":0.65},
{"t":1.865,"k":0.79,"r":0.62,"g":0.58},
{"t":1.875,"k":0.87,"r":0.56,"g":0.62},
{"t":1.885,"k":0.81,"r":0.64,"g":0.61},
{"t":1.895,"k":0.77,"r":0.61,"g":0.63},
{"t":1.905,"k":0.83,"r":0.66,"g":0.64},
{"t":1.915,"k":0.80,"r":0.60,"g":0.62},
{"t":1.925,"k":0.85,"r":0.64,"g":0.65},
{"t":1.935,"k":0.78,"r":0.69,"g":0.61},
{"t":1.945,"k":0.87,"r":0.62,"g":0.66},
{"t":1.955,"k":0.82,"r":0.58,"g":0.63},
{"t":1.965,"k":0.86,"r":0.67,"g":0.67},
{"t":1.975,"k":0.79,"r":0.63,"g":0.62},
{"t":1.985,"k":0.84,"r":0.68,"g":0.64},
{"t":1.995,"k":0.81,"r":0.61,"g":0.60},
{"t":2.005,"k":0.83,"r":0.64,"g":0.67},
{"t":2.015,"k":0.88,"r":0.70,"g":0.70},
{"t":2.025,"k":0.81,"r":0.61,"g":0.65},
{"t":2.035,"k":0.86,"r":0.67,"g":0.69},
{"t":2.045,"k":0.79,"r":0.72,"g":0.66},
{"t":2.055,"k":0.85,"r":0.63,"g":0.71},
{"t":2.065,"k":0.82,"r":0.66,"g":0.64},
{"t":2.075,"k":0.90,"r":0.60,"g":0.68},
{"t":2.085,"k":0.84,"r":0.68,"g":0.67},
{"t":2.095,"k":0.80,"r":0.65,"g":0.69},
{"t":2.105,"k":0.86,"r":0.58,"g":0.66},
{"t":2.115,"k":0.83,"r":0.52,"g":0.64},
{"t":2.125,"k":0.88,"r":0.56,"g":0.67},
{"t":2.135,"k":0.81,"r":0.61,"g":0.63},
{"t":2.145,"k":0.90,"r":0.54,"g":0.68},
{"t":2.155,"k":0.85,"r":0.50,"g":0.65},
{"t":2.165,"k":0.89,"r":0.59,"g":0.69},
{"t":2.175,"k":0.82,"r":0.55,"g":0.64},
{"t":2.185,"k":0.87,"r":0.60,"g":0.66},
{"t":2.195,"k":0.84,"r":0.53,"g":0.62},
{"t":2.205,"k":0.85,"r":0.54,"g":0.64},
{"t":2.215,"k":0.90,"r":0.60,"g":0.67},
{"t":2.225,"k":0.83,"r":0.51,"g":0.62},
{"t":2.235,"k":0.88,"r":0.57,"g":0.66},
{"t":2.245,"k":0.81,"r":0.62,"g":0.63},
{"t":2.255,"k":0.87,"r":0.53,"g":0.68},
{"t":2.265,"k":0.84,"r":0.56,"g":0.61},
{"t":2.275,"k":0.92,"r":0.50,"g":0.65},
{"t":2.285,"k":0.86,"r":0.58,"g":0.64},
{"t":2.295,"k":0.82,"r":0.65,"g":0.66},
{"t":2.305,"k":0.88,"r":0.72,"g":0.65},
{"t":2.315,"k":0.85,"r":0.70,"g":0.63},
{"t":2.325,"k":0.90,"r":0.74,"g":0.66},
{"t":2.335,"k":0.83,"r":0.79,"g":0.62},
{"t":2.345,"k":0.92,"r":0.74,"g":0.67},
{"t":2.355,"k":0.87,"r":0.72,"g":0.64},
{"t":2.365,"k":0.91,"r":0.81,"g":0.68},
{"t":2.375,"k":0.84,"r":0.77,"g":0.63},
{"t":2.385,"k":0.89,"r":0.82,"g":0.65},
{"t":2.395,"k":0.86,"r":0.75,"g":0.61},
{"t":2.405,"k":0.88,"r":0.80,"g":0.67},
{"t":2.415,"k":0.93,"r":0.86,"g":0.70},
{"t":2.425,"k":0.86,"r":0.77,"g":0.65},
{"t":2.435,"k":0.91,"r":0.83,"g":0.69},
{"t":2.445,"k":0.84,"r":0.88,"g":0.66},
{"t":2.455,"k":0.90,"r":0.79,"g":0.71},
{"t":2.465,"k":0.87,"r":0.82,"g":0.64},
{"t":2.475,"k":0.95,"r":0.76,"g":0.68},
{"t":2.485,"k":0.89,"r":0.84,"g":0.67},
{"t":2.495,"k":0.85,"r":0.81,"g":0.69},
{"t":2.505,"k":0.94,"r":0.82,"g":0.67},
{"t":2.515,"k":0.91,"r":0.76,"g":0.65},
{"t":2.525,"k":0.96,"r":0.80,"g":0.68},
{"t":2.535,"k":0.89,"r":0.85,"g":0.64},
{"t":2.545,"k":0.98,"r":0.78,"g":0.69},
{"t":2.555,"k":0.93,"r":0.74,"g":0.66},
{"t":2.565,"k":0.97,"r":0.83,"g":0.70},
{"t":2.575,"k":0.90,"r":0.79,"g":0.65},
{"t":2.585,"k":0.95,"r":0.84,"g":0.67},
{"t":2.595,"k":0.92,"r":0.77,"g":0.63},
{"t":2.605,"k":0.93,"r":0.78,"g":0.67},
{"t":2.615,"k":0.98,"r":0.84,"g":0.70},
{"t":2.625,"k":0.91,"r":0.75,"g":0.65},
{"t":2.635,"k":0.96,"r":0.81,"g":0.69},
{"t":2.645,"k":0.89,"r":0.86,"g":0.66},
{"t":2.655,"k":0.95,"r":0.77,"g":0.71},
{"t":2.665,"k":0.92,"r":0.80,"g":0.64},
{"t":2.675,"k":1.00,"r":0.74,"g":0.68},
{"t":2.685,"k":0.94,"r":0.82,"g":0.67},
{"t":2.695,"k":0.90,"r":0.79,"g":0.69},
{"t":2.705,"k":0.94,"r":0.80,"g":0.67},
{"t":2.715,"k":0.91,"r":0.74,"g":0.65},
{"t":2.725,"k":0.96,"r":0.78,"g":0.68},
{"t":2.735,"k":0.89,"r":0.83,"g":0.64},
{"t":2.745,"k":0.98,"r":0.76,"g":0.69},
{"t":2.755,"k":0.93,"r":0.72,"g":0.66},
{"t":2.765,"k":0.97,"r":0.81,"g":0.70},
{"t":2.775,"k":0.90,"r":0.77,"g":0.65},
{"t":2.785,"k":0.95,"r":0.82,"g":0.67},
{"t":2.795,"k":0.92,"r":0.75,"g":0.63},
{"t":2.805,"k":0.94,"r":0.74,"g":0.67},
{"t":2.815,"k":0.99,"r":0.80,"g":0.70},
{"t":2.825,"k":0.92,"r":0.71,"g":0.65},
{"t":2.835,"k":0.97,"r":0.77,"g":0.69},
{"t":2.845,"k":0.90,"r":0.82,"g":0.66},
{"t":2.855,"k":0.96,"r":0.73,"g":0.71},
{"t":2.865,"k":0.93,"r":0.76,"g":0.64},
{"t":2.875,"k":1.01,"r":0.70,"g":0.68},
{"t":2.885,"k":0.95,"r":0.78,"g":0.67},
{"t":2.895,"k":0.91,"r":0.75,"g":0.69},
{"t":2.905,"k":0.86,"r":0.72,"g":0.68},
{"t":2.915,"k":0.83,"r":0.66,"g":0.66},
{"t":2.925,"k":0.88,"r":0.70,"g":0.69},
{"t":2.935,"k":0.81,"r":0.75,"g":0.65},
{"t":2.945,"k":0.90,"r":0.68,"g":0.70},
{"t":2.955,"k":0.85,"r":0.64,"g":0.67},
{"t":2.965,"k":0.89,"r":0.73,"g":0.71},
{"t":2.975,"k":0.82,"r":0.69,"g":0.66},
{"t":2.985,"k":0.87,"r":0.74,"g":0.68},
{"t":2.995,"k":0.84,"r":0.67,"g":0.64},
{"t":3.005,"k":0.96,"r":0.80,"g":0.67},
{"t":3.015,"k":1.01,"r":0.86,"g":0.70},
{"t":3.025,"k":0.94,"r":0.77,"g":0.65},
{"t":3.035,"k":0.99,"r":0.83,"g":0.69},
{"t":3.045,"k":0.92,"r":0.88,"g":0.66},
{"t":3.055,"k":0.98,"r":0.79,"g":0.71},
{"t":3.065,"k":0.95,"r":0.82,"g":0.64},
{"t":3.075,"k":1.03,"r":0.76,"g":0.68},
{"t":3.085,"k":0.97,"r":0.84,"g":0.67},
{"t":3.095,"k":0.93,"r":0.81,"g":0.69},
{"t":3.105,"k":1.00,"r":0.82,"g":0.67},
{"t":3.115,"k":0.97,"r":0.76,"g":0.65},
{"t":3.125,"k":1.02,"r":0.80,"g":0.68},
{"t":3.135,"k":0.95,"r":0.85,"g":0.64},
{"t":3.145,"k":1.04,"r":0.78,"g":0.69},
{"t":3.155,"k":0.99,"r":0.74,"g":0.66},
{"t":3.165,"k":1.03,"r":0.83,"g":0.70},
{"t":3.175,"k":0.96,"r":0.79,"g":0.65},
{"t":3.185,"k":1.01,"r":0.84,"g":0.67},
{"t":3.195,"k":0.98,"r":0.77,"g":0.63},
{"t":3.205,"k":0.96,"r":0.76,"g":0.67},
{"t":3.215,"k":1.01,"r":0.82,"g":0.70},
{"t":3.225,"k":0.94,"r":0.73,"g":0.65},
{"t":3.235,"k":0.99,"r":0.79,"g":0.69},
{"t":3.245,"k":0.92,"r":0.84,"g":0.66},
{"t":3.255,"k":0.98,"r":0.75,"g":0.71},
{"t":3.265,"k":0.95,"r":0.78,"g":0.64},
{"t":3.275,"k":1.03,"r":0.72,"g":0.68},
{"t":3.285,"k":0.97,"r":0.80,"g":0.67},
{"t":3.295,"k":0.93,"r":0.77,"g":0.69},
{"t":3.305,"k":0.93,"r":0.78,"g":0.67},
{"t":3.315,"k":0.90,"r":0.72,"g":0.65},
{"t":3.325,"k":0.95,"r":0.76,"g":0.68},
{"t":3.335,"k":0.88,"r":0.81,"g":0.64},
{"t":3.345,"k":0.97,"r":0.74,"g":0.69},
{"t":3.355,"k":0.92,"r":0.70,"g":0.66},
{"t":3.365,"k":0.96,"r":0.79,"g":0.70},
{"t":3.375,"k":0.89,"r":0.75,"g":0.65},
{"t":3.385,"k":0.94,"r":0.80,"g":0.67},
{"t":3.395,"k":0.91,"r":0.73,"g":0.63},
{"t":3.405,"k":0.94,"r":0.82,"g":0.66},
{"t":3.415,"k":0.99,"r":0.88,"g":0.69},
{"t":3.425,"k":0.92,"r":0.79,"g":0.64},
{"t":3.435,"k":0.97,"r":0.85,"g":0.68},
{"t":3.445,"k":0.90,"r":0.90,"g":0.65},
{"t":3.455,"k":0.96,"r":0.81,"g":0.70},
{"t":3.465,"k":0.93,"r":0.84,"g":0.63},
{"t":3.475,"k":1.01,"r":0.78,"g":0.67},
{"t":3.485,"k":0.95,"r":0.86,"g":0.66},
{"t":3.495,"k":0.91,"r":0.83,"g":0.68},
{"t":3.505,"k":0.97,"r":0.88,"g":0.67},
{"t":3.515,"k":0.94,"r":0.82,"g":0.65},
{"t":3.525,"k":0.99,"r":0.86,"g":0.68},
{"t":3.535,"k":0.92,"r":0.91,"g":0.64},
{"t":3.545,"k":1.01,"r":0.84,"g":0.69},
{"t":3.555,"k":0.96,"r":0.80,"g":0.66},
{"t":3.565,"k":1.00,"r":0.89,"g":0.70},
{"t":3.575,"k":0.93,"r":0.85,"g":0.65},
{"t":3.585,"k":0.98,"r":0.90,"g":0.67},
{"t":3.595,"k":0.95,"r":0.83,"g":0.63},
{"t":3.605,"k":0.94,"r":0.78,"g":0.64},
{"t":3.615,"k":0.99,"r":0.84,"g":0.67},
{"t":3.625,"k":0.92,"r":0.75,"g":0.62},
{"t":3.635,"k":0.97,"r":0.81,"g":0.66},
{"t":3.645,"k":0.90,"r":0.86,"g":0.63},
{"t":3.655,"k":0.96,"r":0.77,"g":0.68},
{"t":3.665,"k":0.93,"r":0.80,"g":0.61},
{"t":3.675,"k":1.01,"r":0.74,"g":0.65},
{"t":3.685,"k":0.95,"r":0.82,"g":0.64},
{"t":3.695,"k":0.91,"r":0.79,"g":0.66},
{"t":3.705,"k":0.93,"r":0.80,"g":0.65},
{"t":3.715,"k":0.90,"r":0.74,"g":0.63},
{"t":3.725,"k":0.95,"r":0.78,"g":0.66},
{"t":3.735,"k":0.88,"r":0.83,"g":0.62},
{"t":3.745,"k":0.97,"r":0.76,"g":0.67},
{"t":3.755,"k":0.92,"r":0.72,"g":0.64},
{"t":3.765,"k":0.96,"r":0.81,"g":0.68},
{"t":3.775,"k":0.89,"r":0.77,"g":0.63},
{"t":3.785,"k":0.94,"r":0.82,"g":0.65},
{"t":3.795,"k":0.91,"r":0.75,"g":0.61},
{"t":3.805,"k":0.91,"r":0.76,"g":0.67},
{"t":3.815,"k":0.96,"r":0.82,"g":0.70},
{"t":3.825,"k":0.89,"r":0.73,"g":0.65},
{"t":3.835,"k":0.94,"r":0.79,"g":0.69},
{"t":3.845,"k":0.87,"r":0.84,"g":0.66},
{"t":3.855,"k":0.93,"r":0.75,"g":0.71},
{"t":3.865,"k":0.90,"r":0.78,"g":0.64},
{"t":3.875,"k":0.98,"r":0.72,"g":0.68},
{"t":3.885,"k":0.92,"r":0.80,"g":0.67},
{"t":3.895,"k":0.88,"r":0.77,"g":0.69},
{"t":3.905,"k":0.94,"r":0.84,"g":0.66},
{"t":3.915,"k":0.91,"r":0.78,"g":0.64},
{"t":3.925,"k":0.96,"r":0.82,"g":0.67},
{"t":3.935,"k":0.89,"r":0.87,"g":0.63},
{"t":3.945,"k":0.98,"r":0.80,"g":0.68},
{"t":3.955,"k":0.93,"r":0.76,"g":0.65},
{"t":3.965,"k":0.97,"r":0.85,"g":0.69},
{"t":3.975,"k":0.90,"r":0.81,"g":0.64},
{"t":3.985,"k":0.95,"r":0.86,"g":0.66},
{"t":3.995,"k":0.92,"r":0.79,"g":0.62}
]},
"transform":[{"fold":["k","r","g"],"as":["series","rmsd"]}],
"mark":{"type":"line","strokeWidth":1.1},
"encoding":{
"x":{"field":"t","type":"quantitative","scale":{"domain":[0,4],"nice":false,"zero":false},"axis":{"orient":"bottom","values":[0,0.5,1,1.5,2,2.5,3,3.5,4],"labelExpr":"replace(toString(datum.value),'.',',')","tickSize":6,"labelPadding":8,"title":"Time, ns","titlePadding":8}},
"y":{"field":"rmsd","type":"quantitative","scale":{"domain":[0,4],"nice":false,"zero":false},"axis":{"orient":"left","values":[0,1,2,3,4],"format":"d","tickSize":7,"labelPadding":6,"title":"RMSD, A","titlePadding":4}},
"color":{"field":"series","type":"nominal","sort":["k","r","g"],"scale":{"domain":["k","r","g"],"range":["#000000","#ff0000","#00ee00"]},
"legend":{"orient":"none","legendX":567,"legendY":46,"title":null,"symbolType":"stroke","symbolSize":500,"symbolStrokeWidth":1.5,"symbolOpacity":0.6,"labelFont":"Lato","labelFontSize":14,"labelColor":"#111","labelOffset":17,"rowPadding":4,"padding":0,"labelLimit":300,
"labelExpr":"datum.value=='k'?'Relative deviation':datum.value=='r'?'Reference strain':'Bangladesh representative'"}}
}
},
{
"data":{"values":[{"label":"Receptor","t":1.9,"v":3.44}]},
"mark":{"type":"text","font":"Lato","fontSize":19,"fontWeight":"bold","color":"#111"},
"encoding":{
"x":{"field":"t","type":"quantitative"},
"y":{"field":"v","type":"quantitative"},
"text":{"field":"label"}
}
},
{
"data":{"values":[{"x0":2.652,"x1":3.986,"y0":3.658,"y1":3.093}]},
"mark":{"type":"rect","fill":null,"stroke":"#333","strokeWidth":1},
"encoding":{
"x":{"field":"x0","type":"quantitative"},
"x2":{"field":"x1"},
"y":{"field":"y0","type":"quantitative"},
"y2":{"field":"y1"}
}
}
]
}
